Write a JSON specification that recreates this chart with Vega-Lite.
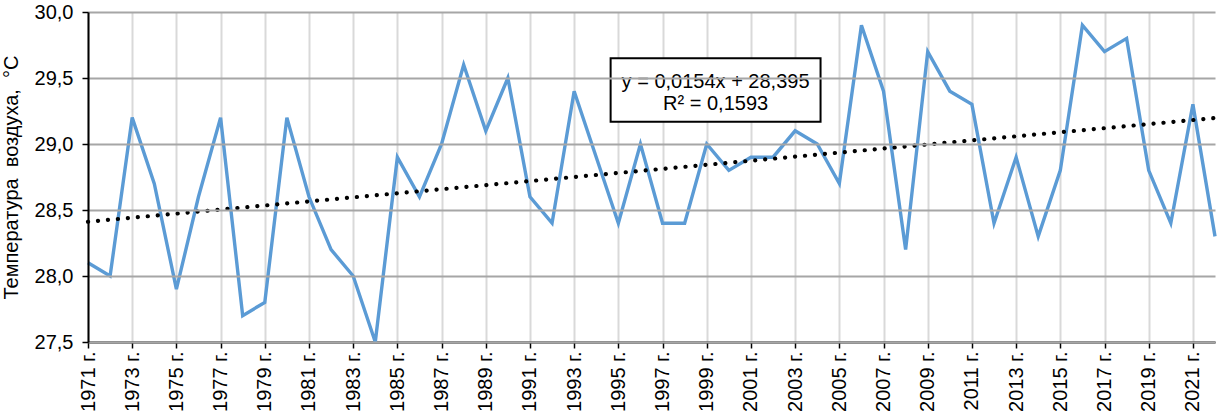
{
  "$schema": "https://vega.github.io/schema/vega-lite/v6.json",
  "autosize": "none",
  "width": 1127,
  "height": 330,
  "padding": {"left": 88, "top": 12, "right": 4, "bottom": 70},
  "background": "white",
  "config": {
    "view": {"stroke": null},
    "font": "Liberation Sans",
    "axis": {"labelFont": "Liberation Sans", "titleFont": "Liberation Sans", "labelColor": "black", "titleColor": "black"}
  },
  "datasets": {
    "temps": [
      {"year": 1971, "t": 28.1}, {"year": 1972, "t": 28.0}, {"year": 1973, "t": 29.2}, {"year": 1974, "t": 28.7},
      {"year": 1975, "t": 27.9}, {"year": 1976, "t": 28.6}, {"year": 1977, "t": 29.2}, {"year": 1978, "t": 27.7},
      {"year": 1979, "t": 27.8}, {"year": 1980, "t": 29.2}, {"year": 1981, "t": 28.6}, {"year": 1982, "t": 28.2},
      {"year": 1983, "t": 28.0}, {"year": 1984, "t": 27.5}, {"year": 1985, "t": 28.9}, {"year": 1986, "t": 28.6},
      {"year": 1987, "t": 29.0}, {"year": 1988, "t": 29.6}, {"year": 1989, "t": 29.1}, {"year": 1990, "t": 29.5},
      {"year": 1991, "t": 28.6}, {"year": 1992, "t": 28.4}, {"year": 1993, "t": 29.4}, {"year": 1994, "t": 28.9},
      {"year": 1995, "t": 28.4}, {"year": 1996, "t": 29.0}, {"year": 1997, "t": 28.4}, {"year": 1998, "t": 28.4},
      {"year": 1999, "t": 29.0}, {"year": 2000, "t": 28.8}, {"year": 2001, "t": 28.9}, {"year": 2002, "t": 28.9},
      {"year": 2003, "t": 29.1}, {"year": 2004, "t": 29.0}, {"year": 2005, "t": 28.7}, {"year": 2006, "t": 29.9},
      {"year": 2007, "t": 29.4}, {"year": 2008, "t": 28.2}, {"year": 2009, "t": 29.7}, {"year": 2010, "t": 29.4},
      {"year": 2011, "t": 29.3}, {"year": 2012, "t": 28.4}, {"year": 2013, "t": 28.9}, {"year": 2014, "t": 28.3},
      {"year": 2015, "t": 28.8}, {"year": 2016, "t": 29.9}, {"year": 2017, "t": 29.7}, {"year": 2018, "t": 29.8},
      {"year": 2019, "t": 28.8}, {"year": 2020, "t": 28.4}, {"year": 2021, "t": 29.3}, {"year": 2022, "t": 28.3}
    ],
    "box": [{"x1": 1994.65, "x2": 2004.15, "y1": 29.649, "y2": 29.169}],
    "eq": [
      {"label": "y = 0,0154x + 28,395", "year": 1999.4, "t": 29.424},
      {"label": "R² = 0,1593", "year": 1999.4, "t": 29.258}
    ]
  },
  "layer": [
    {
      "data": {"name": "temps"},
      "mark": {"type": "line", "color": "#5b9bd5", "strokeWidth": 3.4, "strokeJoin": "miter"},
      "encoding": {
        "x": {
          "field": "year", "type": "quantitative",
          "scale": {"domain": [1971, 2022], "nice": false, "zero": false},
          "axis": {
            "title": null,
            "values": [1971,1972,1973,1974,1975,1976,1977,1978,1979,1980,1981,1982,1983,1984,1985,1986,1987,1988,1989,1990,1991,1992,1993,1994,1995,1996,1997,1998,1999,2000,2001,2002,2003,2004,2005,2006,2007,2008,2009,2010,2011,2012,2013,2014,2015,2016,2017,2018,2019,2020,2021,2022],
            "labelExpr": "datum.value % 2 == 1 ? datum.value + ' г.' : ''",
            "labelOverlap": false,
            "labelAngle": 270,
            "labelAlign": "right",
            "labelBaseline": "middle",
            "labelFontSize": 20,
            "labelPadding": 3,
            "labelFlush": false,
            "tickSize": 6,
            "tickColor": "black",
            "tickWidth": 1.5,
            "domainColor": "black",
            "domainWidth": 2,
            "grid": true,
            "gridColor": "#d9d9d9",
            "gridWidth": 2,
            "zindex": 0
          }
        },
        "y": {
          "field": "t", "type": "quantitative",
          "scale": {"domain": [27.5, 30], "nice": false, "zero": false},
          "axis": {
            "title": "Температура\u00a0 воздуха,\u00a0 °С",
            "titleFontSize": 20,
            "titleFontWeight": "normal",
            "titlePadding": 13,
            "values": [27.5, 28, 28.5, 29, 29.5, 30],
            "labelExpr": "replace(format(datum.value, '.1f'), '.', ',')",
            "labelFontSize": 20,
            "labelPadding": 9,
            "tickSize": 6,
            "tickColor": "black",
            "tickWidth": 1.5,
            "domainColor": "black",
            "domainWidth": 2,
            "grid": true,
            "gridColor": "#a6a6a6",
            "gridWidth": 2,
            "zindex": 1
          }
        }
      }
    },
    {
      "data": {"name": "temps"},
      "transform": [{"regression": "t", "on": "year", "method": "linear", "extent": [1971, 2022]}],
      "mark": {"type": "line", "color": "black", "strokeWidth": 4.2, "strokeCap": "round", "strokeDash": [0.1, 9.9]},
      "encoding": {
        "x": {"field": "year", "type": "quantitative"},
        "y": {"field": "t", "type": "quantitative"}
      }
    },
    {
      "data": {"name": "box"},
      "mark": {"type": "rect", "fill": "white", "stroke": "black", "strokeWidth": 2},
      "encoding": {
        "x": {"field": "x1", "type": "quantitative"},
        "x2": {"field": "x2"},
        "y": {"field": "y1", "type": "quantitative"},
        "y2": {"field": "y2"}
      }
    },
    {
      "data": {"name": "eq"},
      "mark": {"type": "text", "fontSize": 20, "font": "Liberation Sans", "align": "center", "baseline": "alphabetic", "color": "black"},
      "encoding": {
        "x": {"field": "year", "type": "quantitative"},
        "y": {"field": "t", "type": "quantitative"},
        "text": {"field": "label"}
      }
    }
  ]
}
